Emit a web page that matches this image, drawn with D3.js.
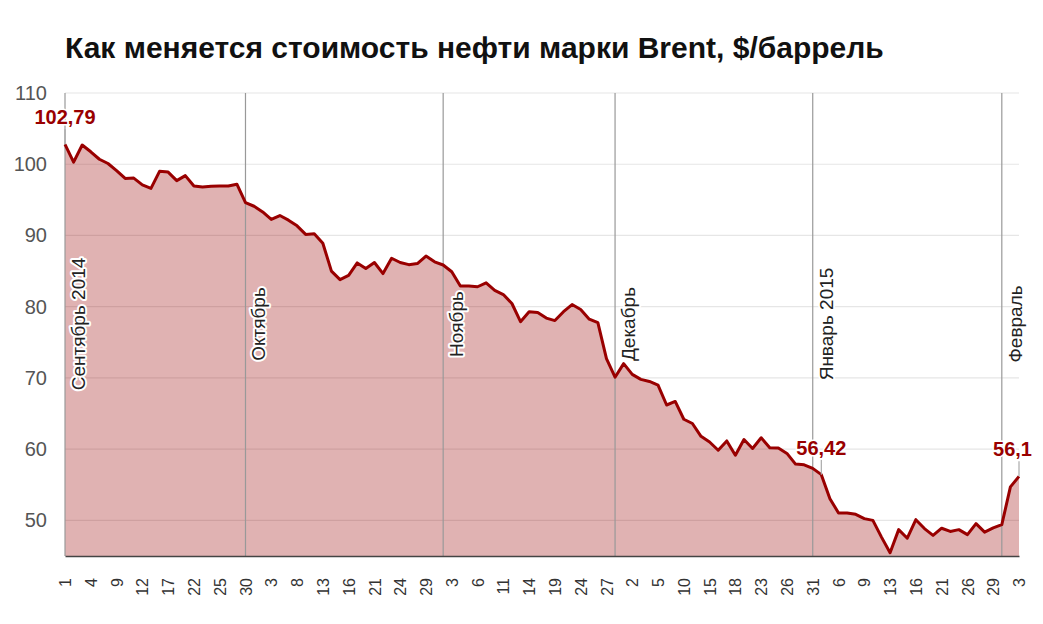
<!DOCTYPE html>
<html>
<head>
<meta charset="utf-8">
<script src="https://cdn.jsdelivr.net/npm/d3@7"></script>
<style>
  html, body { margin: 0; padding: 0; background: #fff; }
  svg { display: block; font-family: "Liberation Sans", Arial, sans-serif; }
</style>
</head>
<body>
<svg id="chart" width="1043" height="624"></svg>
<script>
// ---- DATA ----
const title = "Как меняется стоимость нефти марки Brent, $/баррель";

// day-of-month of every trading day (1 Sep 2014 – 3 Feb 2015)
const days = [
  1,2,3,4,5,8,9,10,11,12,15,16,17,18,19,22,23,24,25,26,29,30,
  1,2,3,6,7,8,9,10,13,14,15,16,17,20,21,22,23,24,27,28,29,30,31,
  3,4,5,6,7,10,11,12,13,14,17,18,19,20,21,24,25,26,27,28,
  1,2,3,4,5,8,9,10,11,12,15,16,17,18,19,22,23,24,25,26,29,30,31,
  2,5,6,7,8,9,10,12,13,14,15,16,19,20,21,22,23,26,27,28,29,30,
  2,3
];

// Brent price, $/barrel
const prices = [
  102.79,100.3,102.7,101.75,100.7,100.1,99.1,98.0,98.05,97.1,96.6,99.0,98.9,97.7,98.4,96.95,96.8,96.9,96.95,96.95,97.2,94.6,
  94.1,93.3,92.25,92.8,92.15,91.35,90.15,90.25,88.9,85.0,83.8,84.4,86.15,85.35,86.2,84.65,86.8,86.2,85.9,86.05,87.1,86.3,85.85,
  84.9,82.9,82.9,82.8,83.35,82.3,81.7,80.45,77.9,79.3,79.2,78.4,78.05,79.3,80.3,79.6,78.25,77.75,72.7,70.1,
  72.0,70.5,69.8,69.5,69.0,66.2,66.7,64.2,63.6,61.8,61.0,59.85,61.15,59.15,61.35,60.1,61.6,60.2,60.15,59.4,57.9,57.8,57.3,
  56.42,53.05,51.05,51.05,50.85,50.25,50.0,47.65,45.45,48.7,47.5,50.1,48.85,47.9,48.9,48.45,48.7,48.0,49.55,48.35,48.95,49.4,
  54.7,56.18
];

// month markers: label and index of trading day where the line is drawn
const monthNames = ["Сентябрь 2014","Октябрь","Ноябрь","Декабрь","Январь 2015","Февраль"];
const monthIdx   = [0, 21, 44, 64, 87, 109];

// value annotations
const annIdx  = [0, 88, 111];
const annText = ["102,79", "56,42", "56,1"];

const yTicks = [50, 60, 70, 80, 90, 100, 110];
const tickEvery = 3;

// ---- CHART ----
(function () {
const W = 1043, H = 624;
const svg = d3.select("#chart");
const mLeft = 65, mRight = 1019, mTop = 93, mBottom = 556;

const idx = d3.range(prices.length);
const x = d3.scalePoint().domain(idx).range([mLeft, mRight]);
const y = d3.scaleLinear().domain([45, 110]).range([mBottom, mTop]);

// title
svg.append("text")
  .attr("x", mLeft).attr("y", 58)
  .attr("font-size", 30).attr("font-weight", "bold").attr("fill", "#111")
  .text(title);

// horizontal grid
svg.append("g").selectAll("line").data(yTicks).join("line")
  .attr("x1", mLeft).attr("x2", mRight)
  .attr("y1", d => y(d)).attr("y2", d => y(d))
  .attr("stroke", "#e6e6e6").attr("stroke-width", 1.2);

// y labels
const yAxis = d3.axisLeft(y).tickValues(yTicks).tickSize(0).tickPadding(0);
const gy = svg.append("g").attr("transform", `translate(47,0)`).call(yAxis);
gy.select(".domain").remove();
gy.selectAll("text").attr("font-size", 20).attr("fill", "#555")
  .attr("font-family", "Liberation Sans, Arial, sans-serif");

// area
const area = d3.area().x(i => x(i)).y0(mBottom).y1(i => y(prices[i]));
svg.append("path").datum(idx).attr("d", area)
  .attr("fill", "#990000").attr("fill-opacity", 0.3);

// month lines
svg.append("g").selectAll("line").data(monthIdx).join("line")
  .attr("x1", d => x(d)).attr("x2", d => x(d))
  .attr("y1", mTop).attr("y2", mBottom)
  .attr("stroke", "#999").attr("stroke-width", 1.2);

// price line
const line = d3.line().x(i => x(i)).y(i => y(prices[i]));
svg.append("path").datum(idx).attr("d", line)
  .attr("fill", "none").attr("stroke", "#990000").attr("stroke-width", 3)
  .attr("stroke-linejoin", "round");

// month labels
svg.append("g").selectAll("text").data(monthIdx).join("text")
  .attr("transform", d => `translate(${x(d) + 20},324) rotate(-90)`)
  .attr("text-anchor", "middle")
  .attr("font-size", 19).attr("fill", "#222")
  .attr("stroke", "#fff").attr("stroke-width", 4).attr("paint-order", "stroke")
  .attr("stroke-linejoin", "round")
  .text((d, k) => monthNames[k]);

// bottom axis
const xAxis = d3.axisBottom(x)
  .tickValues(idx.filter(i => i % tickEvery === 0))
  .tickSize(0).tickPadding(0)
  .tickFormat(i => days[i]);
const gx = svg.append("g").attr("transform", `translate(0,${mBottom})`).call(xAxis);
gx.select(".domain").attr("stroke", "#444").attr("stroke-width", 1.5);
gx.selectAll("text")
  .attr("font-size", 16).attr("fill", "#333")
  .attr("font-family", "Liberation Sans, Arial, sans-serif")
  .attr("text-anchor", "end")
  .attr("transform", "translate(0,22) rotate(-90)")
  .attr("x", 0).attr("y", 0).attr("dy", "0.35em");

// annotations
const annG = svg.append("g");
annIdx.forEach((i, k) => {
  const px = x(i), py = y(prices[i]);
  annG.append("line")
    .attr("x1", px).attr("x2", px)
    .attr("y1", py - 15).attr("y2", py)
    .attr("stroke", "#aaa").attr("stroke-width", 1.2);
  const t = annG.append("text")
    .attr("y", py - 20)
    .attr("font-size", 20).attr("font-weight", "bold").attr("fill", "#990000")
    .attr("text-anchor", "middle")
    .attr("stroke", "#fff").attr("stroke-width", 3).attr("paint-order", "stroke")
    .text(annText[k]);
  const w = t.node().getComputedTextLength();
  const cx = Math.min(px, W - 11 - w / 2);
  t.attr("x", cx);
});
})();
</script>
</body>
</html>
